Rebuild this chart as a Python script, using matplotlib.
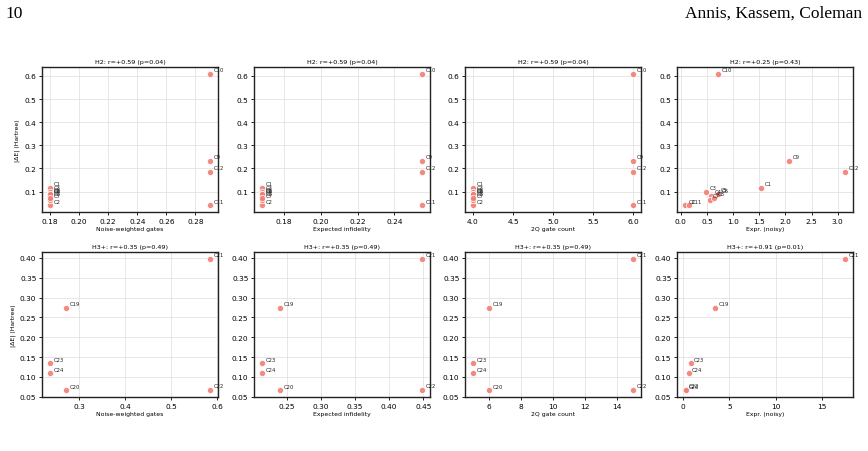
import matplotlib
matplotlib.use("Agg")
import matplotlib.pyplot as plt
from matplotlib.ticker import MultipleLocator, FormatStrFormatter

# ---- H2 data ----
h2_labels = ["C1", "C2", "C3", "C4", "C5", "C6", "C7", "C8", "C9", "C10", "C11", "C12"]
h2_noise_gates = [0.18, 0.18, 0.18, 0.18, 0.18, 0.18, 0.18, 0.18, 0.29, 0.29, 0.29, 0.29]
h2_infidelity = [0.168, 0.168, 0.168, 0.168, 0.168, 0.168, 0.168, 0.168, 0.255, 0.255, 0.255, 0.255]
h2_2q = [4, 4, 4, 4, 4, 4, 4, 4, 6, 6, 6, 6]
h2_expr = [1.54, 0.08, 0.49, 0.58, 0.69, 0.71, 0.55, 0.64, 2.07, 0.72, 0.15, 3.14]
h2_dE = [0.117, 0.040, 0.097, 0.080, 0.090, 0.088, 0.065, 0.072, 0.232, 0.610, 0.040, 0.186]
h2_titles = ["H2: r=+0.59 (p=0.04)", "H2: r=+0.59 (p=0.04)", "H2: r=+0.59 (p=0.04)", "H2: r=+0.25 (p=0.43)"]

# ---- H3+ data ----
h3_labels = ["C19", "C20", "C21", "C22", "C23", "C24"]
h3_noise_gates = [0.271, 0.271, 0.584, 0.584, 0.236, 0.236]
h3_infidelity = [0.241, 0.241, 0.448, 0.448, 0.214, 0.214]
h3_2q = [6, 6, 15, 15, 5, 5]
h3_expr = [3.45, 0.20, 17.5, 0.26, 0.80, 0.58]
h3_dE = [0.273, 0.066, 0.398, 0.067, 0.134, 0.109]
h3_titles = ["H3+: r=+0.35 (p=0.49)", "H3+: r=+0.35 (p=0.49)", "H3+: r=+0.35 (p=0.49)", "H3+: r=+0.91 (p=0.01)"]

xlabels = ["Noise-weighted gates", "Expected infidelity", "2Q gate count", "Expr. (noisy)"]
ylabel = "|ΔE| (Hartree)"

# tick steps per row / column
h2_xsteps = [0.02, 0.02, 0.5, 0.5]
h3_xsteps = [0.1, 0.05, 2, 5]
h2_xfmt = ["%.2f", "%.2f", "%.1f", "%.1f"]
h3_xfmt = ["%.1f", "%.2f", "%d", "%d"]

W, H = 868, 452
fig = plt.figure(figsize=(W / 100, H / 100), dpi=100)

fig.text(5 / W, 1 - 14 / H, "10", family="Liberation Serif", fontsize=12.5, va="center", ha="left")
fig.text(862 / W, 1 - 14 / H, "Annis, Kassem, Coleman", family="Liberation Serif",
         fontsize=12.5, va="center", ha="right")

lefts = [42, 254, 465, 677]
aw = 176
rows = [(68, 213), (253, 398)]

datasets = [
    (h2_labels, [h2_noise_gates, h2_infidelity, h2_2q, h2_expr], h2_dE, h2_titles, h2_xsteps, h2_xfmt),
    (h3_labels, [h3_noise_gates, h3_infidelity, h3_2q, h3_expr], h3_dE, h3_titles, h3_xsteps, h3_xfmt),
]

for r, (top, bot) in enumerate(rows):
    labels, xs_list, ys, titles, xsteps, xfmts = datasets[r]
    for c, left in enumerate(lefts):
        ax = fig.add_axes([left / W, 1 - bot / H, aw / W, (bot - top) / H])
        xs = xs_list[c]
        ax.scatter(xs, ys, s=20, color="#F07F73", edgecolor="white", linewidth=0.6,
                   alpha=0.9, zorder=3)
        for lab, x, y in zip(labels, xs, ys):
            ax.annotate(lab, (x, y), xytext=(2.5, 2), textcoords="offset points",
                        fontsize=3.8, color="#222222", zorder=4)
        ax.set_title(titles[c], fontsize=4.6, pad=3)
        ax.set_xlabel(xlabels[c], fontsize=4.4, labelpad=2)
        if c == 0:
            ax.set_ylabel(ylabel, fontsize=4.4, labelpad=3)
        ax.tick_params(labelsize=5.3, length=2.5, width=0.6, pad=1.5)
        ax.grid(True, color="#e3e3e3", linewidth=0.6)
        ax.set_axisbelow(True)
        for s in ax.spines.values():
            s.set_linewidth(1.0)
            s.set_color("#222222")
        ax.xaxis.set_major_locator(MultipleLocator(xsteps[c]))
        ax.xaxis.set_major_formatter(FormatStrFormatter(xfmts[c]))
        if r == 0:
            ax.yaxis.set_major_locator(MultipleLocator(0.1))
            ax.yaxis.set_major_formatter(FormatStrFormatter("%.1f"))
        else:
            ax.yaxis.set_major_locator(MultipleLocator(0.05))
            ax.yaxis.set_major_formatter(FormatStrFormatter("%.2f"))

fig.savefig("out.png", dpi=100)
